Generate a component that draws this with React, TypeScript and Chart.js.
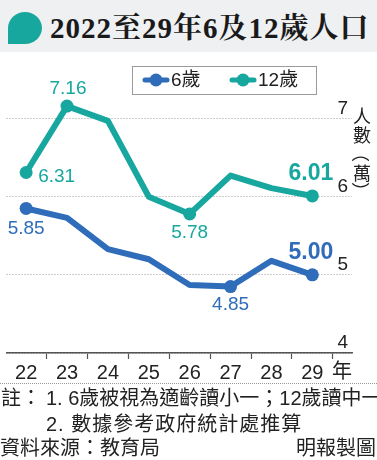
import React, { useEffect, useRef } from "react";
import { Chart, registerables } from "chart.js";

Chart.register(...registerables);

// ---- data ----
const years = ["22", "23", "24", "25", "26", "27", "28", "29"];
const age6 = [5.85, 5.73, 5.33, 5.2, 4.87, 4.85, 5.18, 5.0];
const age12 = [6.31, 7.16, 6.97, 6.0, 5.78, 6.27, 6.11, 6.01];
const yTicks = [4, 5, 6, 7];
const age6Marked = [0, 5, 7];
const age12Marked = [0, 1, 4, 7];
const yUnitChars = ["人", "數", "（", "萬", "）"];

const BLUE = "#2f6cb9";
const TEAL = "#17a79f";
const SANS = '"Liberation Sans", "Noto Sans CJK TC", sans-serif';

// label placement (style only)
const placements = [
  { ds: 1, idx: 0, dx: 12, dy: 4, align: "left", bold: false },
  { ds: 1, idx: 1, dx: 1, dy: -17, align: "center", bold: false },
  { ds: 1, idx: 4, dx: 0, dy: 19, align: "center", bold: false },
  { ds: 1, idx: 7, dx: 21, dy: -22, align: "right", bold: true },
  { ds: 0, idx: 0, dx: 0, dy: 20, align: "center", bold: false },
  { ds: 0, idx: 5, dx: 0, dy: 18, align: "center", bold: false },
  { ds: 0, idx: 7, dx: 21, dy: -22, align: "right", bold: true },
];

const seriesValues = [age6, age12];

const labelPlugin = {
  id: "valueLabels",
  afterDatasetsDraw(chart: any) {
    const ctx = chart.ctx;
    placements.forEach((p) => {
      const meta = chart.getDatasetMeta(p.ds);
      const el = meta.data[p.idx];
      if (!el) return;
      const val = seriesValues[p.ds][p.idx];
      ctx.save();
      ctx.font = `${p.bold ? "bold " : ""}${p.bold ? 23 : 19}px ${SANS}`;
      ctx.fillStyle = p.ds === 0 ? BLUE : TEAL;
      ctx.textAlign = p.align;
      ctx.textBaseline = "middle";
      ctx.fillText(val.toFixed(2), el.x + p.dx, el.y + p.dy);
      ctx.restore();
    });
  },
};

function ChartCanvas() {
  const ref = useRef<HTMLCanvasElement | null>(null);
  useEffect(() => {
    if (!ref.current) return;
    const chart = new Chart(ref.current, {
      type: "line",
      data: {
        datasets: [
          {
            label: "6歲",
            data: age6.map((v, i) => ({ x: i, y: v })),
            borderColor: BLUE,
            backgroundColor: BLUE,
            borderWidth: 6,
            borderJoinStyle: "round",
            borderCapStyle: "round",
            pointRadius: (c: any) => (age6Marked.includes(c.dataIndex) ? 6.5 : 0),
            pointBorderWidth: 0,
            pointBackgroundColor: BLUE,
            tension: 0,
          },
          {
            label: "12歲",
            data: age12.map((v, i) => ({ x: i, y: v })),
            borderColor: TEAL,
            backgroundColor: TEAL,
            borderWidth: 6,
            borderJoinStyle: "round",
            borderCapStyle: "round",
            pointRadius: (c: any) => (age12Marked.includes(c.dataIndex) ? 6.5 : 0),
            pointBorderWidth: 0,
            pointBackgroundColor: TEAL,
            tension: 0,
          },
        ],
      },
      options: {
        responsive: false,
        animation: false,
        events: [],
        layout: { padding: { left: 3, right: 25, top: 60, bottom: 67 } },
        plugins: { legend: { display: false }, tooltip: { enabled: false } },
        scales: {
          x: {
            type: "linear",
            min: -0.48,
            max: 7.97,
            afterBuildTicks: (s: any) => {
              s.ticks = years.map((_, i) => ({ value: i }));
            },
            afterFit: (s: any) => {
              s.height = 40;
            },
            grid: {
              offset: true,
              drawOnChartArea: false,
              drawTicks: true,
              tickLength: 6,
              tickWidth: 1.2,
              tickColor: (c: any) => (c.index >= years.length ? "rgba(0,0,0,0)" : "#555"),
            },
            border: { display: true, color: "#555", width: 1.5 },
            ticks: {
              color: "#222",
              font: { size: 20, family: SANS },
              padding: 2,
              autoSkip: false,
              maxRotation: 0,
              callback: (_v: any, i: number) => years[i],
            },
          },
          y: {
            type: "linear",
            position: "right",
            min: 4,
            max: 7.75,
            afterBuildTicks: (s: any) => {
              s.ticks = yTicks.map((v) => ({ value: v }));
            },
            afterFit: (s: any) => {
              s.width = 0;
            },
            grid: { color: "#9a9a9a", lineWidth: 1, drawTicks: false },
            border: { display: false, dash: [1, 2] },
            ticks: {
              mirror: true,
              padding: -4,
              labelOffset: -10,
              color: "#222",
              font: { size: 19, family: SANS },
              callback: (v: any) => String(v),
            },
          },
        },
      },
      plugins: [labelPlugin],
    } as any);
    return () => chart.destroy();
  }, []);
  return (
    <canvas
      ref={ref}
      width={377}
      height={460}
      style={{ position: "absolute", left: 0, top: 0, width: 377, height: 460 }}
    />
  );
}

function Marker({ color, left }: { color: string; left: number }) {
  return (
    <svg width={28} height={14} style={{ position: "absolute", left, top: 73 }}>
      <line x1={3} y1={7} x2={25} y2={7} stroke={color} strokeWidth={5} strokeLinecap="round" />
      <circle cx={14} cy={7} r={6.5} fill={color} />
    </svg>
  );
}

export default function App() {
  const txt = (extra: any) => ({
    position: "absolute" as const,
    whiteSpace: "nowrap" as const,
    fontFamily: SANS,
    color: "#222",
    ...extra,
  });
  return (
    <div
      style={{
        position: "fixed",
        left: 0,
        top: 0,
        width: 377,
        height: 460,
        background: "#fff",
        overflow: "hidden",
      }}
    >
      <div style={{ position: "absolute", left: 0, top: 0, width: 377, height: 52, background: "#eef0f1" }} />
      <div
        style={{
          position: "absolute",
          left: 8,
          top: 12,
          width: 34,
          height: 32,
          background: TEAL,
          borderRadius: "50% 50% 50% 0",
        }}
      />
      <div
        style={txt({
          left: 50,
          top: 10,
          fontSize: 29,
          lineHeight: "36px",
          fontWeight: "bold",
          color: "#1a1a1a",
          letterSpacing: 1,
          fontFamily: '"Liberation Serif", "Noto Serif CJK TC", "Noto Sans CJK TC", serif',
        })}
      >
        2022至29年6及12歲人口
      </div>

      <ChartCanvas />

      {/* legend */}
      <div
        style={{
          position: "absolute",
          left: 132,
          top: 66,
          width: 185,
          height: 29,
          border: "1.5px solid #9a9a9a",
          boxSizing: "border-box",
        }}
      />
      <Marker color={BLUE} left={142} />
      <div style={txt({ left: 171, top: 68, fontSize: 19, lineHeight: "24px" })}>6歲</div>
      <Marker color={TEAL} left={229} />
      <div style={txt({ left: 258, top: 68, fontSize: 19, lineHeight: "24px" })}>12歲</div>

      {/* y unit, vertical */}
      {yUnitChars.map((ch, i) => {
        const paren = ch === "（" || ch === "）";
        return (
          <div
            key={i}
            style={txt({
              left: 352,
              top: 105 + i * 19,
              width: 20,
              height: 20,
              textAlign: "center",
              fontSize: 18,
              lineHeight: "20px",
              fontFamily: '"Noto Sans CJK TC", sans-serif',
              transform: paren ? "rotate(90deg)" : undefined,
              transformOrigin: "50% 50%",
            })}
          >
            {ch}
          </div>
        );
      })}

      {/* x unit */}
      <div style={txt({ left: 332, top: 359, fontSize: 20, lineHeight: "22px", fontFamily: '"Noto Sans CJK TC", sans-serif' })}>
        年
      </div>

      {/* separator */}
      <div style={{ position: "absolute", left: 0, top: 383, width: 377, borderTop: "1px dotted #999" }} />

      {/* notes */}
      <div style={txt({ left: 1, top: 387, fontSize: 20, lineHeight: "22px" })}>註：</div>
      <div style={txt({ left: 46, top: 387, fontSize: 20, lineHeight: "22px" })}>1. 6歲被視為適齡讀小一；12歲讀中一</div>
      <div style={txt({ left: 46, top: 413, fontSize: 20, lineHeight: "22px", letterSpacing: 1 })}>2. 數據參考政府統計處推算</div>
      <div style={txt({ left: 0, top: 437, fontSize: 20, lineHeight: "22px" })}>資料來源：教育局</div>
      <div style={txt({ right: 1, top: 437, fontSize: 20, lineHeight: "22px" })}>明報製圖</div>
    </div>
  );
}
